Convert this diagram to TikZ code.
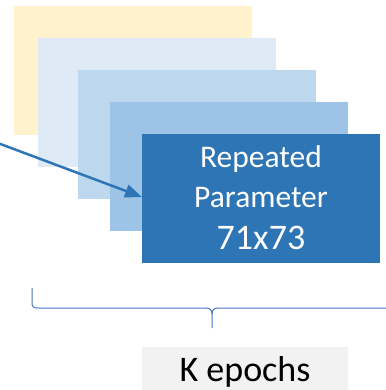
\documentclass[tikz,border=0pt]{standalone}
\usepackage{fontspec}
\setmainfont{Carlito}
\usetikzlibrary{arrows.meta}
\definecolor{cYel}{HTML}{FFF2CC}
\definecolor{cB1}{HTML}{DEEBF7}
\definecolor{cB2}{HTML}{BDD7EE}
\definecolor{cB3}{HTML}{9DC3E6}
\definecolor{cB4}{HTML}{2E75B6}
\definecolor{cBrace}{HTML}{4472C4}
\definecolor{cGray}{HTML}{F2F2F2}
\tikzset{
  sheet/.style={draw=none, fill=#1, minimum width=238pt, minimum height=129pt, inner sep=0pt, anchor=north west},
  wtxt/.style={text=white, anchor=base, inner sep=0pt},
}
\begin{document}
\begin{tikzpicture}[x=1pt,y=-1pt]
\useasboundingbox (0,0) rectangle (385,390);
\node[sheet=cYel] (s1) at (14,6) {};
\node[sheet=cB1] (s2) at (38,38) {};
\node[sheet=cB2] (s3) at (78,70) {};
\node[sheet=cB3] (s4) at (110,102) {};
\node[sheet=cB4] (s5) at (142,134) {};
\node[wtxt, font=\fontsize{31.5}{36}\selectfont] (t1) at (261,167) {Repeated};
\node[wtxt, font=\fontsize{31.5}{36}\selectfont] (t2) at (261,207) {Parameter};
\node[wtxt, font=\fontsize{36}{40}\selectfont] (t3) at (261,249) {71x73};
\coordinate (src) at (-6,141.6);
\coordinate (tip) at (s5.west |- 0,197);
\draw[cB4, line width=2.5pt, -{Triangle[length=17pt,width=13pt]}] (src) -- (tip);
\coordinate (bl) at (32,288);
\coordinate (bm) at (212,328);
\coordinate (br) at (400,308);
\draw[cBrace, line width=1pt] (bl) -- (32,302) .. controls (32,307) and (33,308) .. (38,308) -- (206,308) .. controls (210,308) and (212,310) .. (212,314) -- (bm);
\draw[cBrace, line width=1pt] (212,314) .. controls (212,310) and (214,308) .. (218,308) -- (br);
\node[fill=cGray, minimum width=206pt, minimum height=46pt, inner sep=0pt, anchor=north west] (kb) at (142,347) {};
\node[anchor=base, inner sep=0pt, font=\fontsize{36}{40}\selectfont] (kt) at (245,381.5) {K epochs};
\end{tikzpicture}
\end{document}
